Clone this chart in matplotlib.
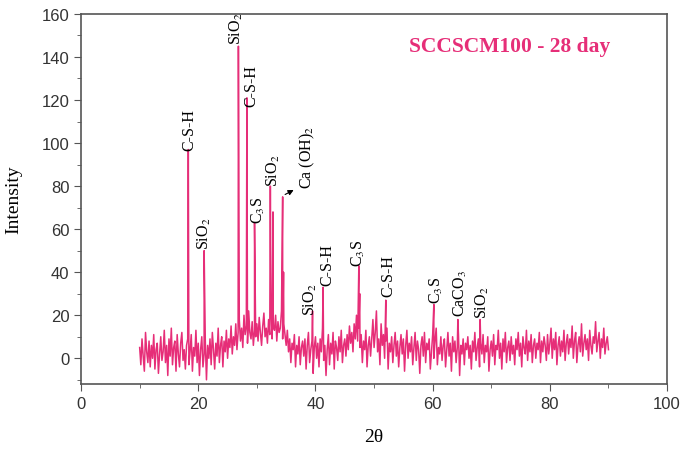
import matplotlib.pyplot as plt
import numpy as np

# background trace, read every 0.2 deg from 10 to 90
x_start, x_step = 10.0, 0.2
noise = [
    5, -3, 9, 1, -6, 12, 3, -2, 8, -4, 6, 0, 11, -5, 4, 7, -7, 2, 10, -1,
    3, 13, -2, 6, -8, 9, 1, 14, -3, 5, 8, -6, 11, 2, -4, 7, 12, -1, 4, -5,
    6, 9, -3, 3, 11, -6, 5, 1, 13, -2, 7, -8, 4, 10, -4, 2, 8, -10, 6, 0,
    9, -3, 12, 4, -5, 7, 1, 14, -2, 6, 10, -4, 8, 3, 13, 0, 9, 5, 15, 2,
    10, 6, 16, 4, 12, 18, 8, 14, 5, 20, 11, 15, 7, 22, 12, 9, 17, 6, 13, 10,
    16, 8, 19, 12, 6, 15, 21, 10, 14, 7, 18, 11, 24, 9, 15, 13, 20, 8, 17, 12,
    14, 22, 9, 16, 11, 6, 13, 3, 9, -2, 7, 4, 11, -4, 6, 2, 10, -3, 5, 8,
    1, 9, -5, 6, 12, -2, 4, 8, -7, 5, 10, 0, 7, -4, 9, 3, 14, -1, 6, -8,
    4, 11, -3, 7, 2, 12, -5, 8, 5, -1, 10, 3, 13, -2, 6, 9, 1, 11, 4, 15,
    7, 12, 3, 16, 9, 20, 8, 14, 5, 11, -2, 8, 4, 13, -4, 6, 10, 1, 9, 18,
    5, 12, 22, 3, 9, -3, 16, 6, 11, 0, 8, 14, -5, 7, 3, 10, -2, 6, 12, 1,
    8, -4, 5, 11, 2, 9, -6, 6, 13, 0, 7, 3, 10, -3, 5, 12, -1, 8, 4, -7,
    6, 10, 1, 12, -2, 7, 4, 9, -5, 3, 11, 0, 8, 14, -3, 5, 2, 10, -1, 6,
    9, -4, 4, 12, 1, 7, -6, 10, 3, 8, -2, 5, 11, -8, 6, 2, 9, -3, 7, 4,
    10, 0, 6, -5, 8, 3, 12, -1, 5, 9, -4, 7, 2, 11, -2, 6, 3, 10, -6, 4,
    8, 1, 11, -3, 6, 4, 13, 0, 7, -5, 9, 3, 12, -2, 5, 8, -1, 10, 2, 6,
    -3, 9, 4, 12, 1, 7, -4, 10, 5, 2, 13, -1, 8, 3, 11, -2, 6, 9, 0, 7,
    4, 12, -2, 8, 3, 10, 6, -1, 11, 2, 7, 14, 0, 9, 4, 12, -3, 6, 10, 1,
    8, 3, 13, -1, 7, 11, 2, 9, 5, 15, 0, 8, 12, -2, 6, 10, 3, 16, 1, 7,
    11, 4, 9, -1, 13, 6, 2, 10, 7, 17, 3, 8, 12, 0, 9, 5, 14, 2, 7, 10,
    4,
]

# diffraction peaks
peak_x = [18.3, 21.0, 26.85, 28.3, 29.6, 32.3, 32.75, 34.4, 34.55, 39.5, 41.3,
          47.4, 47.55, 52.0, 60.2, 64.3, 68.1]
peak_y = [97, 50, 145, 121, 63, 80, 68, 75, 40, 22, 33,
          43, 30, 27, 25, 18, 18]

# phase labels: text, x, y (bottom of rotated label)
labels = ['C-S-H', 'SiO$_2$', 'SiO$_2$', 'C-S-H', 'C$_3$S', 'SiO$_2$', 'Ca (OH)$_2$',
          'SiO$_2$', 'C-S-H', 'C$_3$S', 'C-S-H', 'C$_3$S', 'CaCO$_3$', 'SiO$_2$']
label_x = [18.4, 21.1, 26.6, 29.0, 30.2, 32.8, 38.7, 39.2, 42.0, 47.4, 52.4, 60.6, 64.7, 68.5]
label_y = [97, 51, 146, 117, 63, 80, 79, 20, 34, 43, 29, 25.5, 19.5, 18.5]

pink = '#E62E78'
plt.rcParams['mathtext.fontset'] = 'stix'

x = np.concatenate([x_start + x_step * np.arange(len(noise)), peak_x])
y = np.concatenate([noise, peak_y])
order = np.argsort(x)

fig = plt.figure(figsize=(6.87, 4.52), dpi=100)
ax = fig.add_axes([0.118, 0.148, 0.853, 0.819])
ax.plot(x[order], y[order], color=pink, lw=1.1)

for t, lx, ly in zip(labels, label_x, label_y):
    ax.text(lx, ly, t, rotation=90, ha='center', va='bottom',
            family='Liberation Serif', fontsize=11.5)

ax.annotate('', xy=(36.7, 78.8), xytext=(34.4, 75.5),
            arrowprops=dict(arrowstyle='-|>', color='black', lw=0.8, mutation_scale=8))

ax.text(73.2, 145, 'SCCSCM100 - 28 day', color=pink, fontsize=15.5, fontweight='bold',
        family='Liberation Serif', ha='center', va='center')

ax.set_xlim(0, 100)
ax.set_ylim(-12, 160)
ax.set_xticks(np.arange(0, 101, 20))
ax.set_xticks(np.arange(10, 100, 20), minor=True)
ax.set_yticks(np.arange(0, 161, 20))
ax.set_yticks(np.arange(-10, 160, 20), minor=True)
ax.tick_params(which='both', direction='out', colors='#555555', labelcolor='#333333')
ax.tick_params(which='major', length=5, labelsize=12)
ax.tick_params(which='minor', length=3)
for lab in ax.get_xticklabels() + ax.get_yticklabels():
    lab.set_family('Liberation Sans')
for s in ax.spines.values():
    s.set_color('#555555')
    s.set_linewidth(1.2)

ax.set_xlabel('2θ', family='Liberation Serif', fontsize=14, labelpad=12)
ax.set_ylabel('Intensity', family='Liberation Serif', fontsize=14, labelpad=14)

fig.savefig('out.png', dpi=100)
